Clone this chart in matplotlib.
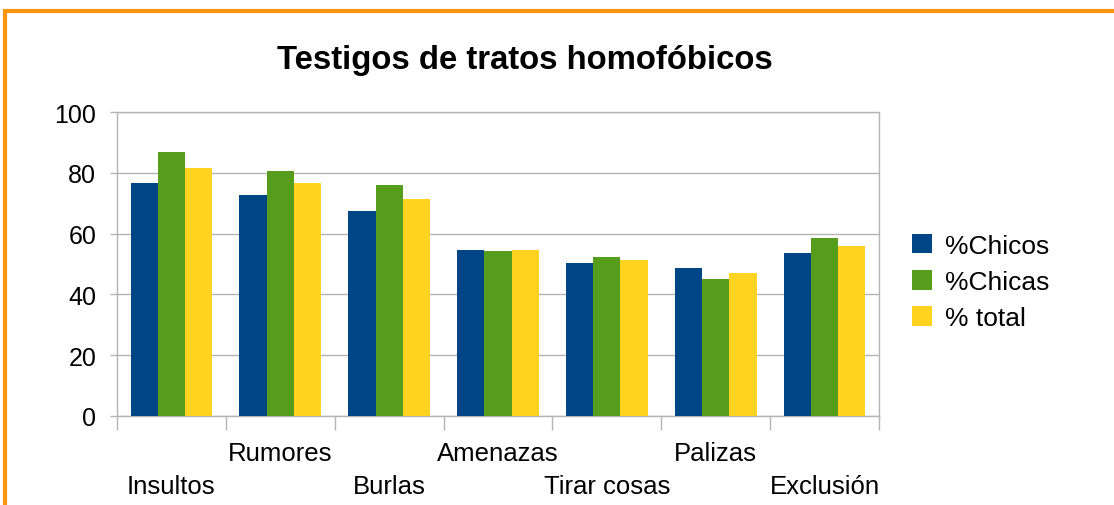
"""Testigos de tratos homofóbicos: grouped bar chart."""
import matplotlib

matplotlib.use("Agg")
import matplotlib.pyplot as plt
import numpy as np
from matplotlib.patches import Rectangle

categories = ["Insultos", "Rumores", "Burlas", "Amenazas", "Tirar cosas", "Palizas", "Exclusión"]
chicos = [76.7, 72.7, 67.5, 54.6, 50.3, 48.7, 53.6]
chicas = [87.0, 80.6, 76.0, 54.3, 52.3, 45.0, 58.5]
total = [81.6, 76.7, 71.4, 54.6, 51.3, 47.0, 55.9]
series_names = ["%Chicos", "%Chicas", "% total"]
y_ticks = [0, 20, 40, 60, 80, 100]

colors = ["#004586", "#579d1c", "#ffd320"]
grid_color = "#b3b3b3"

plt.rcParams["font.family"] = ["Liberation Sans", "DejaVu Sans"]

W, H = 1114, 506
fig = plt.figure(figsize=(W / 100, H / 100), dpi=100)
ax = fig.add_axes([117 / W, 1 - 416.7 / H, 762 / W, 303.4 / H])

x = np.arange(len(categories))
width = 0.25
for i, (vals, name) in enumerate(zip([chicos, chicas, total], series_names)):
    ax.bar(x + (i - 1) * width, vals, width, color=colors[i], label=name, zorder=3)

ax.set_xlim(-0.5, len(categories) - 0.5)
ax.set_ylim(0, 100)
ax.set_yticks(y_ticks)
ax.tick_params(axis="y", labelsize=18, length=5, width=1, color=grid_color, pad=10)
ax.grid(axis="y", color=grid_color, lw=1, zorder=0)

# staggered category labels, boundary ticks below the axis
ax.set_xticks(x, categories)
ax.tick_params(axis="x", which="major", length=0, labelsize=18.5, pad=18)
for i, tick in enumerate(ax.xaxis.get_major_ticks()):
    if i % 2 == 0:
        tick.set_pad(42)
ax.set_xticks(np.arange(-0.5, len(categories)), minor=True)
ax.tick_params(axis="x", which="minor", length=10, width=1, color=grid_color)

for s in ax.spines.values():
    s.set_color(grid_color)
    s.set_linewidth(1)

fig.text(525 / W, 1 - 61 / H, "Testigos de tratos homofóbicos", ha="center", va="center",
         fontsize=23.7, fontweight="bold")

fig.legend(loc="center left", bbox_to_anchor=(912 / W, 1 - 283 / H), frameon=False,
           fontsize=19, handlelength=0.76, handleheight=0.76, handletextpad=0.5,
           labelspacing=0.47, borderpad=0, borderaxespad=0)

# orange frame, cut by the right and bottom edges
fig.patches.append(Rectangle((4.5 / W, -0.1), 1.2, 1.1 - 11.5 / H, transform=fig.transFigure,
                             fill=False, edgecolor="#ff950e", lw=3, zorder=0))

fig.savefig("out.png", dpi=100)
